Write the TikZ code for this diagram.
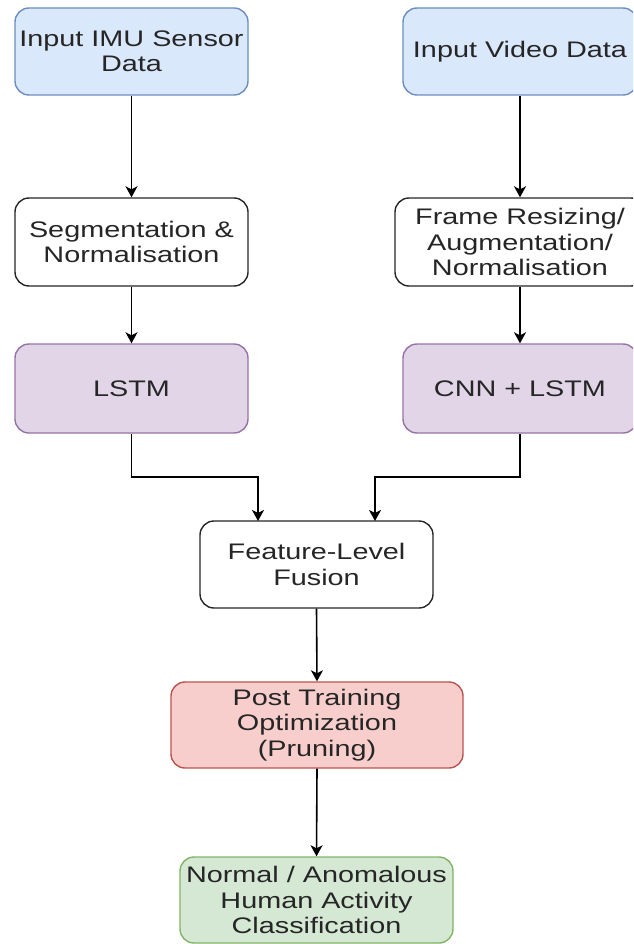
\documentclass[tikz,border=0pt]{standalone}
\usepackage{fontspec}
\setmainfont[FakeStretch=1.28]{Liberation Sans}
\usetikzlibrary{arrows.meta}
\definecolor{txt}{HTML}{262626}
\definecolor{bluefill}{HTML}{DAE8FC}\definecolor{bluedraw}{HTML}{6C8EBF}
\definecolor{purpfill}{HTML}{E1D5E7}\definecolor{purpdraw}{HTML}{9673A6}
\definecolor{redfill}{HTML}{F8CECC}\definecolor{reddraw}{HTML}{B85450}
\definecolor{greenfill}{HTML}{D5E8D4}\definecolor{greendraw}{HTML}{82B366}
\tikzset{
  box/.style={rectangle, rounded corners=14pt, line width=1.4pt, align=center,
    inner sep=0pt, text=txt, font=\fontsize{22.5}{25.5}\selectfont},
  bluebox/.style={box, fill=bluefill, draw=bluedraw},
  purpbox/.style={box, fill=purpfill, draw=purpdraw},
  redbox/.style={box, fill=redfill, draw=reddraw},
  greenbox/.style={box, fill=greenfill, draw=greendraw},
  whitebox/.style={box, fill=white, draw=black!85},
  conn/.style={line width=1.6pt, draw=black, -{Stealth[length=11pt,width=12pt,inset=3pt]}}
}
\begin{document}
\begin{tikzpicture}[x=1pt,y=-1pt]
\useasboundingbox (0,0) rectangle (633,944);
\clip (0,0) rectangle (633,944);
\node[bluebox, minimum width=233pt, minimum height=87pt] (imu) at (131.5,51.5) {Input IMU Sensor\\Data};
\node[bluebox, minimum width=234pt, minimum height=87pt] (video) at (520,51.5) {Input Video Data};
\node[whitebox, minimum width=233pt, minimum height=88pt] (seg) at (131.5,242) {Segmentation \&\\Normalisation};
\node[whitebox, minimum width=250pt, minimum height=88pt] (frame) at (520,242) {Frame Resizing/\\Augmentation/\\Normalisation};
\node[purpbox, minimum width=233pt, minimum height=89pt] (lstm) at (131.5,388.5) {LSTM};
\node[purpbox, minimum width=234pt, minimum height=89pt] (cnn) at (520,388.5) {CNN + LSTM};
\node[whitebox, minimum width=233pt, minimum height=87pt] (fusion) at (316.5,564.5) {Feature-Level\\Fusion};
\node[redbox, minimum width=292pt, minimum height=86pt] (post) at (317,725) {Post Training\\Optimization\\(Pruning)};
\node[greenbox, minimum width=273pt, minimum height=86pt] (normal) at (316.5,900) {Normal / Anomalous\\Human Activity\\Classification};
\coordinate (fa) at (258,521);
\coordinate (fb) at (375,521);
\draw[conn] (imu.south) -- (seg.north);
\draw[conn] (video.south) -- (frame.north);
\draw[conn] (seg.south) -- (lstm.north);
\draw[conn] (frame.south) -- (cnn.north);
\draw[conn] (lstm.south) -- (131.5,477) -| (fa);
\draw[conn] (cnn.south) -- (520,477) -| (fb);
\draw[conn] (fusion.south) -- (post.north);
\draw[conn] (post.south) -- (normal.north);
\end{tikzpicture}
\end{document}
